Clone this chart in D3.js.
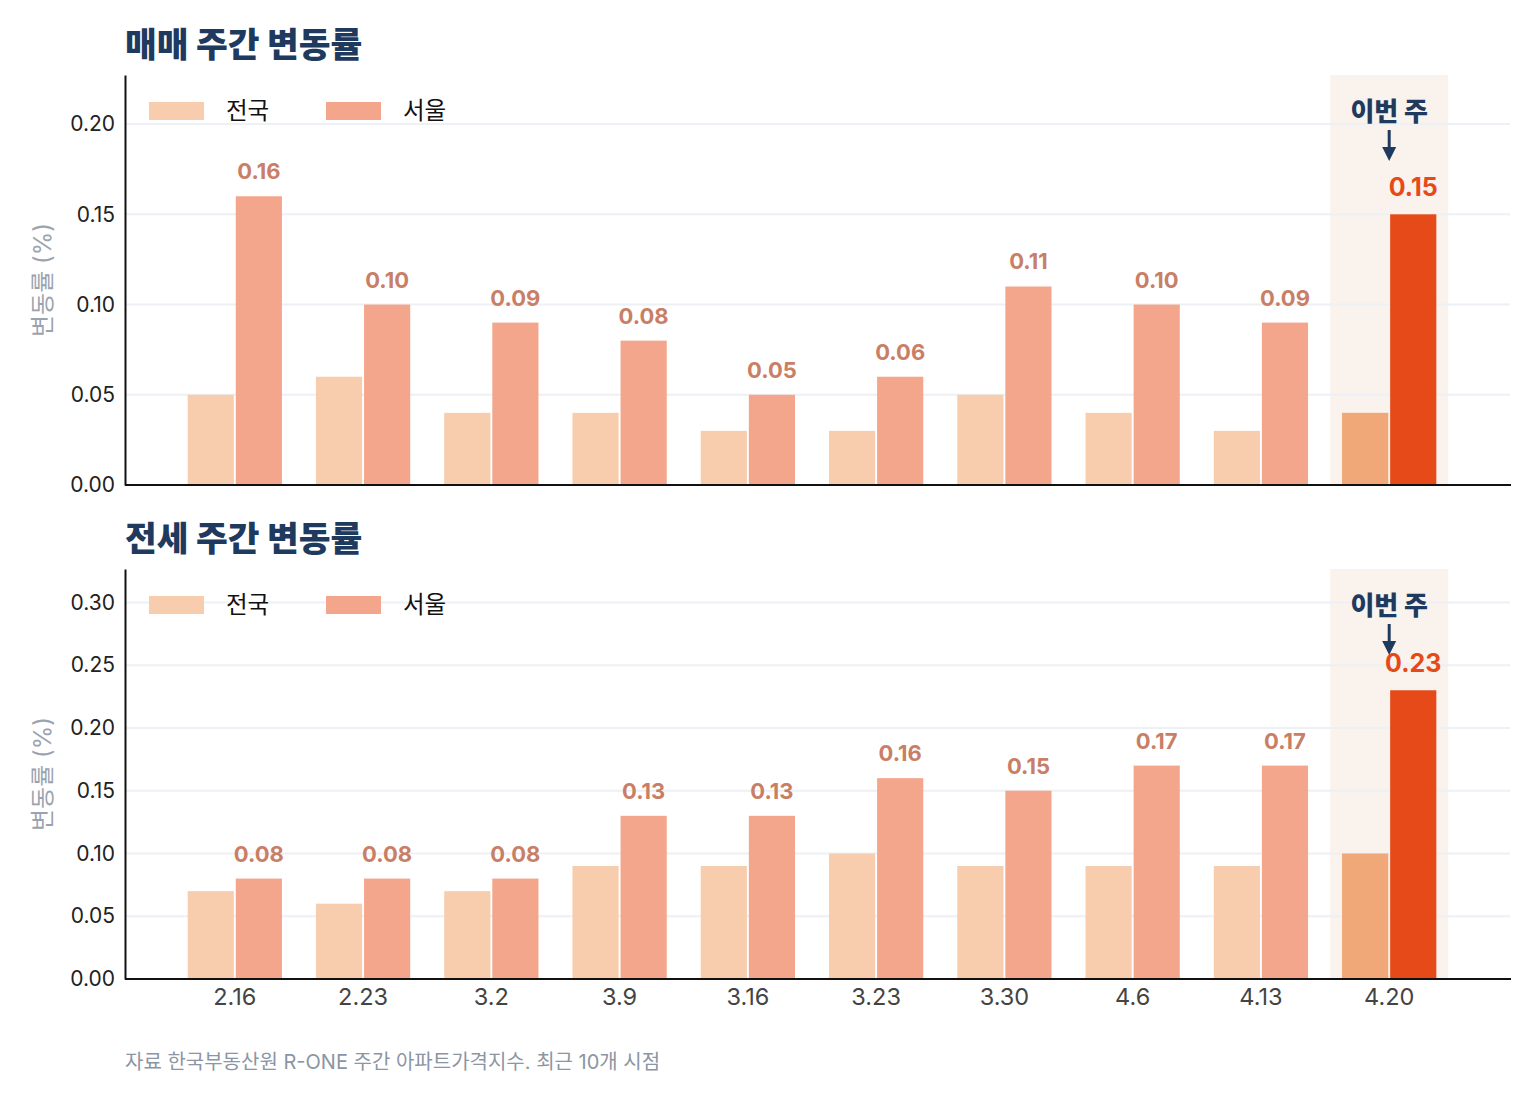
<!DOCTYPE html>
<html>
<head>
<meta charset="utf-8">
<script src="https://cdn.jsdelivr.net/npm/d3@7"></script>
<style>
  body { margin: 0; background: #fff; }
  text { font-family: "Inter", "Noto Sans CJK KR", sans-serif; }
</style>
</head>
<body>
<div id="chart"></div>
<script>
const weeks = ["2.16", "2.23", "3.2", "3.9", "3.16", "3.23", "3.30", "4.6", "4.13", "4.20"];
const seriesNames = ["전국", "서울"];
const saleNation = [0.05, 0.06, 0.04, 0.04, 0.03, 0.03, 0.05, 0.04, 0.03, 0.04];
const saleSeoul = [0.16, 0.10, 0.09, 0.08, 0.05, 0.06, 0.11, 0.10, 0.09, 0.15];
const rentNation = [0.07, 0.06, 0.07, 0.09, 0.09, 0.10, 0.09, 0.09, 0.09, 0.10];
const rentSeoul = [0.08, 0.08, 0.08, 0.13, 0.13, 0.16, 0.15, 0.17, 0.17, 0.23];
const saleTicks = [0, 0.05, 0.10, 0.15, 0.20];
const rentTicks = [0, 0.05, 0.10, 0.15, 0.20, 0.25, 0.30];

const panels = [
	{title: "매매 주간 변동률", nation: saleNation, seoul: saleSeoul, ticks: saleTicks, top: 75},
	{title: "전세 주간 변동률", nation: rentNation, seoul: rentSeoul, ticks: rentTicks, top: 569}
];

const width = 1540, height = 1104,
	plotLeft = 125, plotRight = 1510,
	plotHeight = 410;

const colors = {nation: "#f7cdae", seoul: "#f4a68c", nationHi: "#f0a878", seoulHi: "#e64a19"};

const svg = d3.select("#chart")
	.append("svg")
	.attr("width", width)
	.attr("height", height);

const x0 = d3.scaleBand()
	.domain(weeks)
	.range([171, 1453])
	.paddingInner(0.265)
	.paddingOuter(0.13);

const x1 = d3.scaleBand()
	.domain(seriesNames)
	.range([0, x0.bandwidth()])
	.paddingInner(0.04);

const last = weeks[weeks.length - 1];

panels.forEach((p, pi) => {
	const y = d3.scaleLinear()
		.domain([0, d3.max(p.seoul) * 1.42])
		.range([p.top + plotHeight, p.top]);

	const g = svg.append("g").classed("panel", true);

	// title
	g.append("text")
		.attr("x", plotLeft)
		.attr("y", p.top - 18)
		.style("font-size", "34.5px")
		.style("font-weight", 800)
		.style("fill", "#1f3a5f")
		.text(p.title);

	// highlight box for this week
	const hiCenter = x0(last) + x0.bandwidth() / 2;
	g.append("rect")
		.attr("x", hiCenter - 59)
		.attr("y", p.top)
		.attr("width", 118)
		.attr("height", plotHeight)
		.style("fill", "#faf2ec");

	// grid
	g.selectAll(".grid")
		.data(p.ticks.filter(t => t > 0))
		.enter()
		.append("line")
		.classed("grid", true)
		.attr("x1", plotLeft)
		.attr("x2", plotRight)
		.attr("y1", d => y(d))
		.attr("y2", d => y(d))
		.style("stroke", "#edf0f4")
		.style("stroke-width", 2);

	// y axis
	const yAxis = d3.axisLeft(y)
		.tickValues(p.ticks)
		.tickSize(0)
		.tickPadding(10)
		.tickFormat(d3.format(".2f"));
	const ya = g.append("g")
		.attr("transform", `translate(${plotLeft},0)`)
		.call(yAxis);
	ya.select(".domain").style("stroke", "#111").style("stroke-width", 2);
	ya.selectAll(".tick text")
		.style("font-size", "21px")
		.style("fill", "#222")
		.style("font-family", "Inter, 'Noto Sans CJK KR', sans-serif");

	// y label
	g.append("text")
		.attr("transform", `translate(51,${p.top + plotHeight / 2}) rotate(-90)`)
		.attr("text-anchor", "middle")
		.style("font-size", "24px")
		.style("fill", "#9aa3ae")
		.text("변동률 (%)");

	// bars
	const groups = g.selectAll(".group")
		.data(weeks)
		.enter()
		.append("g")
		.classed("group", true)
		.attr("transform", d => `translate(${x0(d)},0)`);

	groups.append("rect")
		.attr("x", x1("전국"))
		.attr("width", x1.bandwidth())
		.attr("y", (d, i) => y(p.nation[i]))
		.attr("height", (d, i) => y(0) - y(p.nation[i]))
		.style("fill", d => d === last ? colors.nationHi : colors.nation);

	groups.append("rect")
		.attr("x", x1("서울"))
		.attr("width", x1.bandwidth())
		.attr("y", (d, i) => y(p.seoul[i]))
		.attr("height", (d, i) => y(0) - y(p.seoul[i]))
		.style("fill", d => d === last ? colors.seoulHi : colors.seoul);

	groups.append("text")
		.attr("x", x1("서울") + x1.bandwidth() / 2)
		.attr("y", (d, i) => y(p.seoul[i]) - (d === last ? 18 : 17))
		.attr("text-anchor", "middle")
		.style("font-size", d => d === last ? "25px" : "22px")
		.style("font-weight", 700)
		.style("fill", d => d === last ? "#e64a19" : "#c97e66")
		.text((d, i) => p.seoul[i].toFixed(2));

	// x baseline
	g.append("line")
		.attr("x1", plotLeft)
		.attr("x2", plotRight + 1)
		.attr("y1", y(0))
		.attr("y2", y(0))
		.style("stroke", "#111")
		.style("stroke-width", 2);

	// this week annotation
	g.append("text")
		.attr("x", hiCenter)
		.attr("y", p.top + 46)
		.attr("text-anchor", "middle")
		.style("font-size", "26px")
		.style("font-weight", 800)
		.style("fill", "#1f3a5f")
		.text("이번 주");
	g.append("line")
		.attr("x1", hiCenter)
		.attr("x2", hiCenter)
		.attr("y1", p.top + 55)
		.attr("y2", p.top + 76)
		.style("stroke", "#1f3a5f")
		.style("stroke-width", 3);
	g.append("path")
		.attr("d", `M${hiCenter - 7},${p.top + 72} L${hiCenter + 7},${p.top + 72} L${hiCenter},${p.top + 86} Z`)
		.style("fill", "#1f3a5f");

	// legend
	const legend = g.append("g")
		.attr("transform", `translate(149,${p.top + 27})`);
	[["전국", colors.nation, 0], ["서울", colors.seoul, 177]].forEach(([name, c, dx]) => {
		legend.append("rect")
			.attr("x", dx)
			.attr("y", 0)
			.attr("width", 55)
			.attr("height", 18)
			.style("fill", c);
		legend.append("text")
			.attr("x", dx + 77)
			.attr("y", 9)
			.attr("dy", "0.35em")
			.style("font-size", "23.5px")
			.style("fill", "#111")
			.text(name);
	});

	// x axis labels on the last panel
	if (pi === panels.length - 1) {
		const xAxis = d3.axisBottom(x0).tickSize(0).tickPadding(9);
		const xa = g.append("g")
			.attr("transform", `translate(0,${y(0)})`)
			.call(xAxis);
		xa.select(".domain").remove();
		xa.selectAll(".tick text")
			.style("font-size", "23.5px")
			.style("fill", "#444")
			.style("font-family", "Inter, 'Noto Sans CJK KR', sans-serif");
	}
});

svg.append("text")
	.attr("x", plotLeft)
	.attr("y", 1069)
	.style("font-size", "20px")
	.style("fill", "#8a96a3")
	.text("자료 한국부동산원 R-ONE 주간 아파트가격지수. 최근 10개 시점");
</script>
</body>
</html>
